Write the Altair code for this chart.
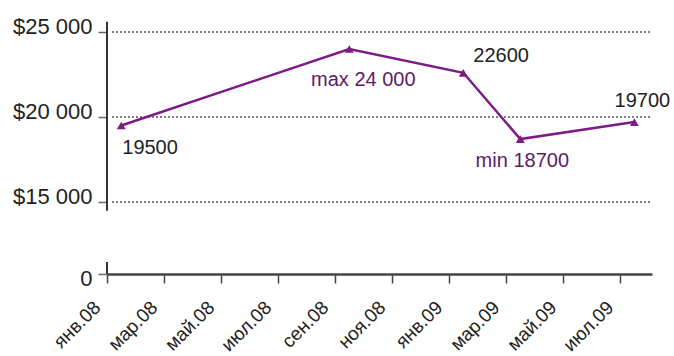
import altair as alt
import pandas as pd

# ---- data ----
tick_labels = ["янв.08", "мар.08", "май.08", "июл.08", "сен.08",
               "ноя.08", "янв.09", "мар.09", "май.09", "июл.09"]
point_month = [0, 8, 12, 14, 18]          # months since янв.08
point_value = [19500, 24000, 22600, 18700, 19700]
point_label = ["19500", "max 24 000", "22600", "min 18700", "19700"]
y_ticks = [0, 15000, 20000, 25000]
grid_values = [15000, 20000, 25000]
axis_seg_start = [13200, 0]
axis_seg_end = [25600, 2500]

df = pd.DataFrame({"month": point_month, "value": point_value, "label": point_label})
grid_df = pd.DataFrame({"v": grid_values})
seg_df = pd.DataFrame({"a": axis_seg_start, "b": axis_seg_end})

LINE = "#7d1b84"
TEXT_P = "#5f1a66"
FONT = "Liberation Sans"

labels_js = "[" + ",".join("'%s'" % t for t in tick_labels) + "]"

x_scale = alt.Scale(domain=[0, 19.12], nice=False, zero=False)
y_scale = alt.Scale(domain=[0, 15000, 25000], range=[252, 180, 10], nice=False, zero=False)

x_axis = alt.Axis(values=[0, 2, 4, 6, 8, 10, 12, 14, 16, 18],
                  labelExpr=labels_js + "[round(datum.value/2)]",
                  labelAngle=-45, labelAlign="right", labelBaseline="middle",
                  labelFont=FONT, labelFontSize=19, labelColor="#222",
                  labelPadding=21, labelOffset=-10,
                  labelOverlap=False, labelFlush=False, labelBound=False,
                  tickSize=9, tickColor="#444", tickWidth=1.5,
                  domainColor="#444", domainWidth=2.5, grid=False, title=None)

y_axis = alt.Axis(values=y_ticks,
                  labelExpr="datum.value == 0 ? '0' : '$' + replace(format(datum.value, ','), ',', ' ')",
                  labelFont=FONT, labelFontSize=22, labelColor="#222", labelPadding=6,
                  labelOffset={"condition": {"test": "datum.value == 0", "value": 4}, "value": -6},
                  labelOverlap=False,
                  tickSize=9, tickColor="#666", tickWidth=1.5,
                  domain=False, grid=False, title=None)

base = alt.Chart(df).transform_calculate(xm="datum.month + 0.5")

grid = alt.Chart(grid_df).mark_rule(color="#555", strokeDash=[2, 2], strokeWidth=1.5).encode(
    y=alt.Y("v:Q", scale=y_scale, axis=y_axis),
    x=alt.value(5), x2=alt.value(545))

segs = alt.Chart(seg_df).mark_rule(color="#333", strokeWidth=2).encode(
    y=alt.Y("a:Q", scale=y_scale), y2="b:Q", x=alt.value(0))

line = base.mark_line(color=LINE, strokeWidth=2.5).encode(
    x=alt.X("xm:Q", scale=x_scale, axis=x_axis),
    y=alt.Y("value:Q", scale=y_scale))

pts = base.mark_point(shape="triangle-up", filled=True, color=LINE, opacity=1, size=80).encode(
    x=alt.X("xm:Q", scale=x_scale), y=alt.Y("value:Q", scale=y_scale))

styles = {
    "19500": dict(align="left", dx=1, dy=22, color="#222"),
    "max 24 000": dict(align="center", dx=14, dy=31, color=TEXT_P),
    "22600": dict(align="left", dx=10, dy=-17, color="#222"),
    "min 18700": dict(align="center", dx=2, dy=22, color=TEXT_P),
    "19700": dict(align="center", dx=8, dy=-21, color="#222"),
}
texts = []
for lab, st in styles.items():
    texts.append(base.transform_filter(alt.datum.label == lab).mark_text(
        font=FONT, fontSize=20, baseline="middle", **st).encode(
        x=alt.X("xm:Q", scale=x_scale), y=alt.Y("value:Q", scale=y_scale), text="label:N"))

chart = alt.layer(grid, segs, line, pts, *texts).properties(
    width=545, height=252,
    autosize=alt.AutoSizeParams(type="none"),
    padding={"left": 107, "top": 22, "right": 22, "bottom": 82},
    background="white",
).configure_view(stroke=None)

chart.save("out.html", embed_options={"renderer": "svg", "actions": False})
